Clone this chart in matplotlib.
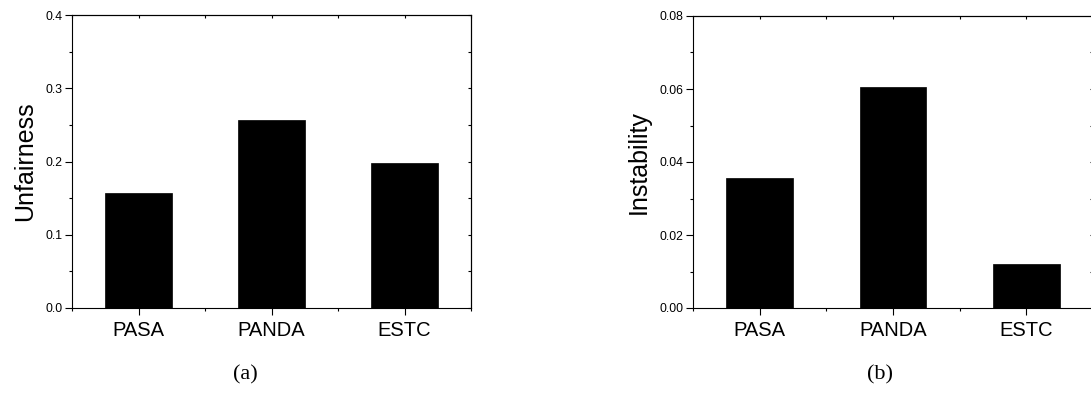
import matplotlib
matplotlib.use("Agg")
from matplotlib import pyplot as plt
from matplotlib.ticker import MultipleLocator, NullFormatter
import numpy as np

methods = ["PASA", "PANDA", "ESTC"]
unfairness = [0.1566, 0.2562, 0.1975]
instability = [0.0355, 0.0606, 0.0120]

plt.rcParams['font.family'] = ['Liberation Sans', 'DejaVu Sans']

fig = plt.figure(figsize=(10.91, 4.0), dpi=100)
ax1 = fig.add_axes([72 / 1091, 92 / 400, 399 / 1091, 293 / 400])
ax2 = fig.add_axes([693 / 1091, 92 / 400, 400 / 1091, 292 / 400])


def style(ax, values, ylabel, ymax, major, minor, fmt):
    x = np.arange(1, len(values) + 1)
    ax.bar(x, values, width=0.5, color="black", edgecolor="black", linewidth=0.5)
    ax.set_xlim(0.5, 3.5)
    ax.set_ylim(0, ymax)
    ax.set_xticks(x)
    ax.set_xticklabels(methods, fontsize=14.5)
    ax.xaxis.set_minor_locator(MultipleLocator(0.5))
    ax.yaxis.set_minor_locator(MultipleLocator(minor))
    yt = np.arange(0, ymax + major / 2, major)
    ax.set_yticks(yt)
    ax.set_yticklabels([fmt % v for v in yt], fontsize=8.8)
    ax.set_ylabel(ylabel, fontsize=18, labelpad=6)
    for s in ax.spines.values():
        s.set_linewidth(0.8)
    ax.tick_params(which="major", direction="out", length=5, width=0.8, pad=2)
    ax.tick_params(which="minor", direction="out", length=2.5, width=0.8)
    ax.tick_params(axis="x", which="major", pad=4)

    # small inward ticks on top and right
    top = ax.secondary_xaxis("top")
    top.set_xticks(x)
    top.xaxis.set_minor_locator(MultipleLocator(0.5))
    top.xaxis.set_major_formatter(NullFormatter())
    top.tick_params(which="both", direction="in", length=2, width=0.8)
    top.spines["top"].set_linewidth(0.8)
    right = ax.secondary_yaxis("right")
    right.set_yticks(yt)
    right.yaxis.set_minor_locator(MultipleLocator(minor))
    right.yaxis.set_major_formatter(NullFormatter())
    right.tick_params(which="both", direction="in", length=2, width=0.8)
    right.spines["right"].set_linewidth(0.8)


style(ax1, unfairness, "Unfairness", 0.4, 0.1, 0.05, "%.1f")
style(ax2, instability, "Instability", 0.08, 0.02, 0.01, "%.2f")

fig.text(245 / 1091, 1 - 375 / 400, "(a)", fontsize=16, family=["Liberation Serif", "DejaVu Serif"],
         ha="center", va="center")
fig.text(880 / 1091, 1 - 375 / 400, "(b)", fontsize=16, family=["Liberation Serif", "DejaVu Serif"],
         ha="center", va="center")

fig.savefig("out.png", dpi=100)
